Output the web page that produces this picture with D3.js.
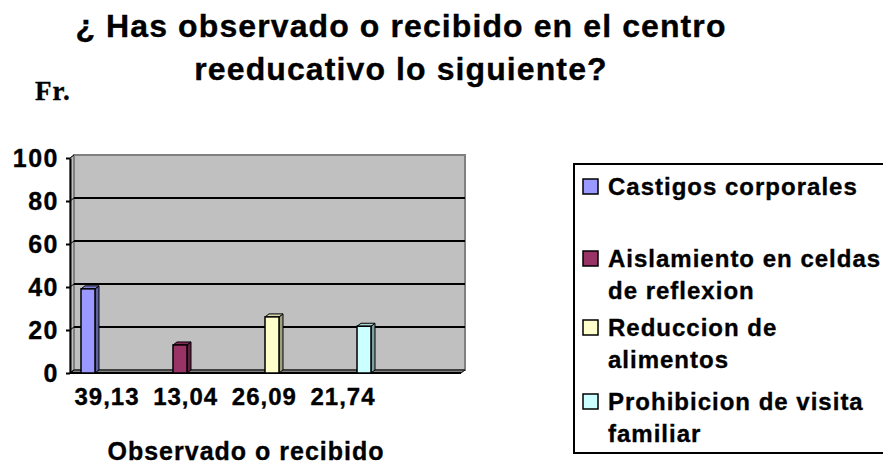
<!DOCTYPE html>
<html><head><meta charset="utf-8">
<script src="https://cdn.jsdelivr.net/npm/d3@7"></script>
<style>
html,body{margin:0;padding:0;background:#fff;}
svg{display:block;}
text{font-family:"Liberation Sans",Arial,sans-serif;font-weight:bold;fill:#000;stroke:#000;stroke-width:0.35px;}
</style></head>
<body>
<script>
const series = ["Castigos corporales", "Aislamiento en celdas de reflexion", "Reduccion de alimentos", "Prohibicion de visita familiar"];
const values = [39.13, 13.04, 26.09, 21.74];
const valueLabels = ["39,13", "13,04", "26,09", "21,74"];
const colors = ["#9999FF", "#993366", "#FFFFCC", "#CCFFFF"];
const yTicks = [0, 20, 40, 60, 80, 100];
const legendLines = [["Castigos corporales"], ["Aislamiento en celdas", "de reflexion"], ["Reduccion de", "alimentos"], ["Prohibicion de visita", "familiar"]];
const titleLines = ["¿ Has observado o recibido en el centro", "reeducativo lo siguiente?"];
const xTitle = "Observado o recibido";
const yTitle = "Fr.";

const W = 883, H = 465;
const svg = d3.select("body").append("svg").attr("width", W).attr("height", H);

const dx = 4, dy = -3;               // 3D depth offset
const yFront = d3.scaleLinear().domain([0, 100]).range([373, 158]);
const yBack = v => yFront(v) + dy;
const xLeft = 70, xRight = 461;
const xBand = d3.scaleBand().domain(series).range([81, 371]).paddingInner(0.848).paddingOuter(0);
const xLab = d3.scalePoint().domain(series).range([107, 343]);

// Title
svg.append("g").selectAll("text").data(titleLines).join("text")
  .attr("x", 401).attr("y", (d, i) => 37 + i * 43)
  .attr("text-anchor", "middle").style("font-size", "32px").style("letter-spacing", "1.1px")
  .text(d => d);

// Y title
svg.append("text").attr("x", 35).attr("y", 100)
  .style("font-family", "'Liberation Serif','Times New Roman',serif").style("font-size", "27px").style("letter-spacing", "1px")
  .text(yTitle);

// Side wall
svg.append("polygon")
  .attr("points", [[xLeft, yFront(0)], [xLeft + dx, yBack(0)], [xLeft + dx, yBack(100)], [xLeft, yFront(100)]].join(" "))
  .attr("fill", "#C0C0C0").attr("stroke", "#808080").attr("stroke-width", 1);

// Back wall
svg.append("rect")
  .attr("x", xLeft + dx).attr("y", yBack(100))
  .attr("width", xRight - xLeft).attr("height", yBack(0) - yBack(100))
  .attr("fill", "#C0C0C0").attr("stroke", "#808080").attr("stroke-width", 2);

// Floor
svg.append("polygon")
  .attr("points", [[xLeft, yFront(0)], [xLeft + dx, yBack(0)], [xRight + dx, yBack(0)], [xRight, yFront(0)]].join(" "))
  .attr("fill", "#808080").attr("stroke", "#000").attr("stroke-width", 1);

// Gridlines on back wall + diagonals on side wall
const grid = svg.append("g");
grid.selectAll("line.g").data(yTicks.filter(t => t > 0 && t < 100)).join("line").attr("class", "g")
  .attr("x1", xLeft + dx).attr("x2", xRight + dx)
  .attr("y1", d => yBack(d)).attr("y2", d => yBack(d))
  .attr("stroke", "#000").attr("stroke-width", 2);
grid.selectAll("line.d").data(yTicks).join("line").attr("class", "d")
  .attr("x1", xLeft).attr("x2", xLeft + dx)
  .attr("y1", d => yFront(d)).attr("y2", d => yBack(d))
  .attr("stroke", "#000").attr("stroke-width", 1);

// Floor front edge
svg.append("line").attr("x1", xLeft).attr("x2", xRight).attr("y1", yFront(0)).attr("y2", yFront(0))
  .attr("stroke", "#000").attr("stroke-width", 2);

// Y axis
const yAxis = svg.append("g").attr("transform", `translate(${xLeft},0)`)
  .call(d3.axisLeft(yFront).tickValues(yTicks).tickSize(4).tickPadding(7).tickSizeOuter(0));
yAxis.select(".domain").attr("stroke", "#000").attr("stroke-width", 2);
yAxis.selectAll(".tick line").attr("stroke", "#000").attr("stroke-width", 2);
yAxis.selectAll(".tick text").style("font-family", "'Liberation Sans',Arial,sans-serif")
  .style("font-weight", "bold").style("font-size", "25px").style("letter-spacing", "1.5px")
  .attr("fill", "#000").style("stroke", "#000").style("stroke-width", "0.35px");

// Bars (3D)
const bw = xBand.bandwidth();
const bars = svg.append("g").selectAll("g").data(series).join("g");
bars.append("polygon") // side
  .attr("points", (d, i) => {
    const x = xBand(d) + bw, yt = yFront(values[i]);
    return [[x, yt], [x + dx, yt + dy], [x + dx, yBack(0)], [x, yFront(0)]].join(" ");
  })
  .attr("fill", (d, i) => d3.color(colors[i]).darker(1.3)).attr("stroke", "#000").attr("stroke-width", 1);
bars.append("polygon") // top
  .attr("points", (d, i) => {
    const x = xBand(d), yt = yFront(values[i]);
    return [[x, yt], [x + dx, yt + dy], [x + bw + dx, yt + dy], [x + bw, yt]].join(" ");
  })
  .attr("fill", (d, i) => d3.color(colors[i]).darker(0.5)).attr("stroke", "#000").attr("stroke-width", 1);
bars.append("rect") // front
  .attr("x", d => xBand(d)).attr("y", (d, i) => yFront(values[i]))
  .attr("width", bw).attr("height", (d, i) => yFront(0) - yFront(values[i]))
  .attr("fill", (d, i) => colors[i]).attr("stroke", "#000").attr("stroke-width", 1.5);

// Category value labels
svg.append("g").selectAll("text").data(series).join("text")
  .attr("x", d => xLab(d)).attr("y", 405)
  .attr("text-anchor", "middle").style("font-size", "24px").style("letter-spacing", "1px")
  .text((d, i) => valueLabels[i]);

// X title
svg.append("text").attr("x", 246).attr("y", 460).attr("text-anchor", "middle")
  .style("font-size", "25px").style("letter-spacing", "1px").text(xTitle);

// Legend
svg.append("rect").attr("x", 574).attr("y", 164).attr("width", 320).attr("height", 289)
  .attr("fill", "#fff").attr("stroke", "#000").attr("stroke-width", 2);
const itemY = [195, 267, 336, 410];
const lg = svg.append("g").selectAll("g").data(series).join("g")
  .attr("transform", (d, i) => `translate(0,${itemY[i]})`);
lg.append("rect").attr("x", 583).attr("y", -16).attr("width", 15).attr("height", 15)
  .attr("fill", (d, i) => colors[i]).attr("stroke", "#000").attr("stroke-width", 1.5);
lg.selectAll("text").data((d, i) => legendLines[i]).join("text")
  .attr("x", 608).attr("y", (d, j) => j * 32)
  .style("font-size", "24px").style("letter-spacing", "1px").text(d => d);
</script>
</body></html>
